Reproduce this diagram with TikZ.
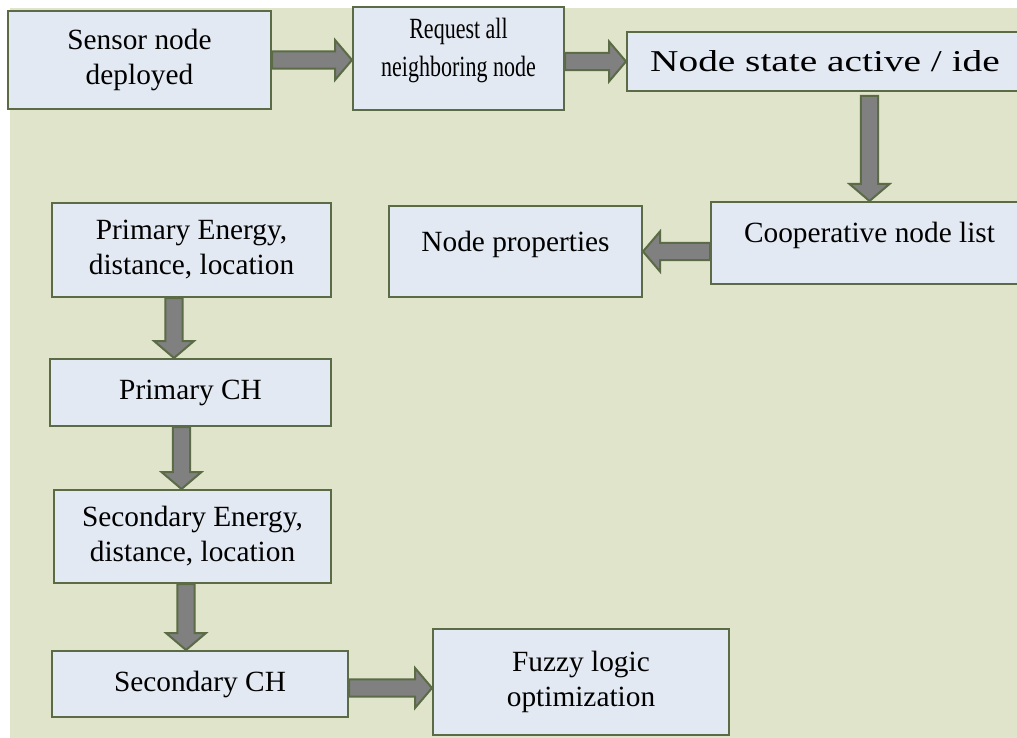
\documentclass[tikz,border=0pt]{standalone}
\usepackage{fontspec}
\setmainfont{Liberation Serif}
\newfontfamily\narrowserif[FakeStretch=0.75]{Liberation Serif}
\newfontfamily\wideserif[FakeStretch=1.3]{Liberation Serif}
\usetikzlibrary{calc}
\definecolor{panel}{HTML}{DFE4CA}
\definecolor{boxfill}{HTML}{E3E9F2}
\definecolor{boxline}{HTML}{5A6B45}
\definecolor{arrowfill}{HTML}{808080}

% block arrow between two points: shaft, head base, tip
\newcommand\shaftw{6.4pt}
\newcommand\headw{15pt}
\newcommand\headlen{12.75pt}
\newcommand\blockarrow[2]{%
  \coordinate (ba-s) at (#1);
  \coordinate (ba-e) at (#2);
  \coordinate (ba-h) at ($(ba-e)!\headlen!(ba-s)$);
  \filldraw[fill=arrowfill, draw=boxline, line width=1.5pt, line join=miter]
    ($(ba-s)!\shaftw!90:(ba-e)$) -- ($(ba-h)!\shaftw!90:(ba-e)$)
    -- ($(ba-h)!\headw!90:(ba-e)$) -- (ba-e)
    -- ($(ba-h)!\headw!-90:(ba-e)$) -- ($(ba-h)!\shaftw!-90:(ba-e)$)
    -- ($(ba-s)!\shaftw!-90:(ba-e)$) -- cycle;
}

\begin{document}
\begin{tikzpicture}[x=0.75pt, y=-0.75pt,
    stage/.style={draw=boxline, fill=boxfill, line width=1.5pt, align=center,
      inner sep=0pt, font=\fontsize{22pt}{26.25pt}\selectfont}]
  \useasboundingbox (0,0) rectangle (1017,738);
  \clip (0,0) rectangle (1017,738);

  % Background panel
  \fill[panel] (10,8) rectangle (1030,750);

  % Top row
  \node[stage, minimum width=197.25pt, minimum height=73.5pt] (sensor) at (139.5,60) {Sensor node\\deployed};
  \node[stage, minimum width=158.25pt, text height=52.5pt, text depth=24.75pt,
    font=\narrowserif\fontsize{22pt}{28.5pt}\selectfont] (request) at (458.5,58.5) {Request all\\neighboring node};
  \node[stage, minimum width=297pt, minimum height=44.25pt,
    font=\wideserif\fontsize{22.7pt}{27pt}\selectfont] (state) at (825,61.5) {Node state active / ide};

  % Second row
  \node[stage, minimum width=237.75pt, text height=30.75pt, text depth=30.75pt] (coop) at (869.5,243) {Cooperative node list};
  \node[stage, minimum width=189.75pt, text height=33.75pt, text depth=34.5pt] (props) at (515.5,251.5) {Node properties};

  % Left column
  \node[stage, minimum width=209.25pt, minimum height=70.5pt] (pe) at (191.5,250) {Primary Energy,\\distance, location};
  \node[stage, minimum width=210.75pt, minimum height=50.25pt] (pch) at (190.5,392.5) {Primary CH};
  \node[stage, minimum width=207.75pt, minimum height=69.75pt] (se) at (192.5,536.5) {Secondary Energy,\\distance, location};
  \node[stage, minimum width=222pt, minimum height=49.5pt] (sch) at (200,684) {Secondary CH};
  \node[stage, minimum width=222pt, minimum height=79.5pt] (fuzzy) at (581,682) {Fuzzy logic\\optimization};

  % Arrows
  \blockarrow{sensor.east}{sensor.east -| request.west}
  \blockarrow{state.west -| request.east}{state.west}
  \blockarrow{$(coop.north |- state.south)+(0,4)$}{coop.north}
  \blockarrow{props.east -| coop.west}{props.east}

  \coordinate (pe-out) at ($(pe.south)+(-17.5,0)$);
  \coordinate (pch-out) at ($(pch.south)+(-9,0)$);
  \coordinate (se-out) at ($(se.south)+(-6.5,0)$);
  \coordinate (sch-out) at ($(sch.east)+(0,4)$);
  \blockarrow{pe-out}{pe-out |- pch.north}
  \blockarrow{pch-out}{pch-out |- se.north}
  \blockarrow{se-out}{se-out |- sch.north}
  \blockarrow{sch-out}{sch-out -| fuzzy.west}
\end{tikzpicture}
\end{document}
